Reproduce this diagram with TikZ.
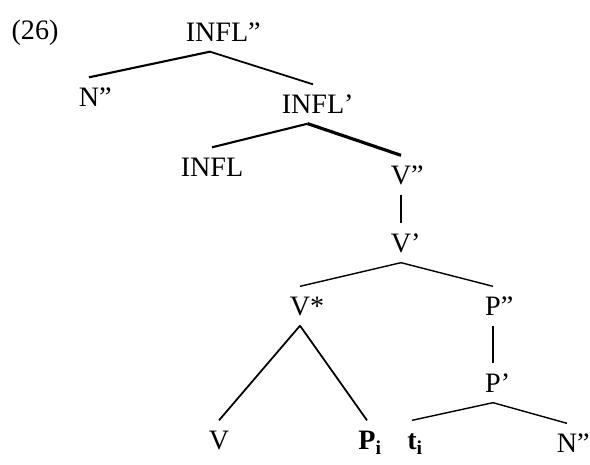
\documentclass[tikz,border=0pt]{standalone}
\usepackage{fontspec}
\setmainfont{Liberation Serif}
\usepackage{tikz}
\usetikzlibrary{positioning}

\begin{document}
\begin{tikzpicture}[
        x=0.02cm, y=-0.02cm,
        cat/.style={inner sep=5.5pt, text height=11pt, text depth=0pt, font=\fontsize{16}{19}\selectfont},
        branch/.style={line width=1pt}
    ]
    \useasboundingbox (0,0) rectangle (590,465);

    % ==========================================
    % Nodes Placement
    % ==========================================
    \node[cat] (ex) at (35, 30) {(26)};
    \node[cat] (infl2) at (217, 32) {INFL\rlap{”}};
    \node[cat] (n2a) at (89, 97) {N\rlap{”}};
    \node[cat] (infl1) at (313, 104) {INFL\rlap{’}};
    \node[cat] (infl) at (212, 167) {INFL};
    \node[cat] (v2) at (401, 175) {V\rlap{”}};
    \node[cat] (v1) at (401, 243) {V\rlap{’}};
    \node[cat] (vstar) at (300, 306) {V\rlap{*}};
    \node[cat] (p2) at (493, 306) {P\rlap{”}};
    \node[cat] (p1) at (493, 383) {P\rlap{’}};
    \node[cat] (v) at (219, 440) {V};
    \node[cat] (pi) at (367, 440) {\textbf{P}\rlap{$_{\mathbf{i}}$}};
    \node[cat] (ti) at (412, 440) {\textbf{t}\rlap{$_{\mathbf{i}}$}};
    \node[cat] (n2b) at (567, 443) {N\rlap{”}};

    % ==========================================
    % Branches
    % ==========================================
    \draw[branch, line width=1.2pt] ([xshift=-4pt]infl2.south) -- (n2a.north);
    \draw[branch] ([xshift=-4pt]infl2.south) -- (infl1.north);
    \draw[branch, line width=1.2pt] ([xshift=-3pt]infl1.south) -- (infl.north);
    \draw[branch, line width=1.8pt] ([xshift=-3pt]infl1.south) -- (v2.north);
    \draw[branch] (v2.south) -- (v1.north);
    \draw[branch, line width=0.8pt] (v1.south) -- (vstar.north);
    \draw[branch, line width=0.8pt] (v1.south) -- (p2.north);
    \draw[branch] (vstar.south) -- (v.north);
    \draw[branch] (vstar.south) -- (pi.north);
    \draw[branch, line width=0.7pt] (p2.south) -- (p1.north);
    \draw[branch, line width=0.8pt] (p1.south) -- (ti.north);
    \draw[branch, line width=0.8pt] (p1.south) -- (n2b.north);

\end{tikzpicture}
\end{document}
